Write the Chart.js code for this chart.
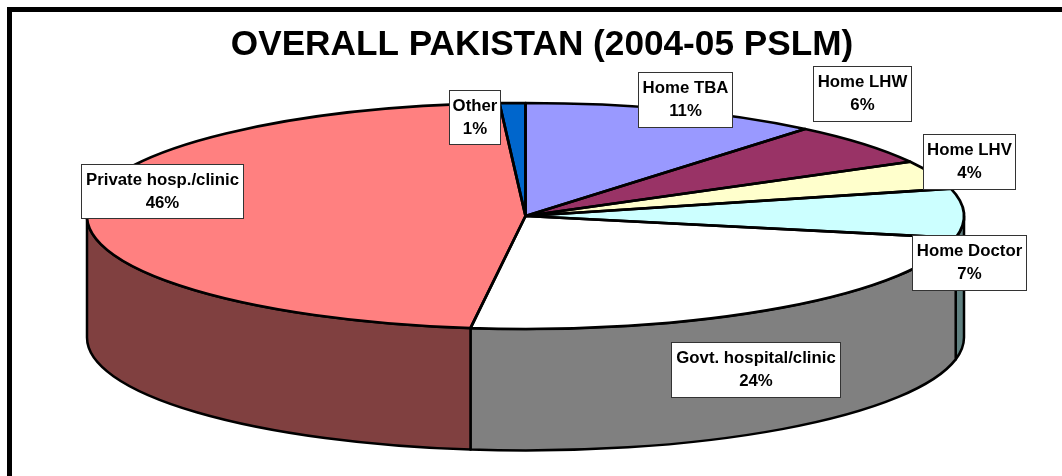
<!DOCTYPE html>
<html>
<head>
<meta charset="utf-8">
<style>html,body{margin:0;padding:0;background:#fff;overflow:hidden}canvas{display:block}</style>
<script src="https://cdn.jsdelivr.net/npm/chart.js@4/dist/chart.umd.min.js"></script>
</head>
<body>
<canvas id="c" width="1062" height="476" style="width:1062px;height:476px"></canvas>
<script>
const titleText = 'OVERALL PAKISTAN (2004-05 PSLM)';
const categories = ['Home TBA','Home LHW','Home LHV','Home Doctor','Govt. hospital/clinic','Private hosp./clinic','Other'];
const shares = [10.83,5.93,4.0,6.89,23.52,46.3,0.93];
const topColors = ['#9999FF','#993366','#FFFFCC','#CCFFFF','#FFFFFF','#FF8080','#0066CC'];
const wallColors = ['#4D4D80','#4D1A33','#808066','#608080','#808080','#804040','#003366'];
// label boxes: left, top, right, bottom (layout only)
const labelBoxes = [[638,72,732,127],[813,66,911,121],[923,134,1015,189],[912,235,1026,290],[671,342,840,397],[81,164,243,218],[449,90,500,144]];
// pie projection (layout only)
const CX=525.5, CY=216, RX=438.5, RY=113, DEPTH=121.5;

function arcsOf(chart){
  return chart.getDatasetMeta(0).data.map(a=>a.getProps(['startAngle','endAngle','outerRadius','x','y'],true));
}
const pie3d = {
  id:'pie3d',
  beforeDraw(chart){
    const c=chart.ctx; c.save(); c.fillStyle='#000';
    c.fillRect(7,7,1055,5); c.fillRect(7,7,5,469); c.restore();
  },
  beforeDatasetsDraw(chart){
    const c=chart.ctx, arcs=arcsOf(chart);
    c.save(); c.lineWidth=2.5; c.strokeStyle='#000'; c.lineJoin='round';
    arcs.forEach((a,i)=>{
      const s=Math.max(a.startAngle,0), e=Math.min(a.endAngle,Math.PI);
      if(e<=s) return;
      c.beginPath();
      c.ellipse(CX,CY,RX,RY,0,s,e,false);
      c.ellipse(CX,CY+DEPTH,RX,RY,0,e,s,true);
      c.closePath();
      c.fillStyle=wallColors[i]; c.fill(); c.stroke();
    });
    c.restore();
    const R=arcs[0].outerRadius;
    c.save();
    c.translate(CX,CY); c.scale(RX/R,RY/R); c.translate(-arcs[0].x,-arcs[0].y);
  },
  afterDatasetsDraw(chart){
    const c=chart.ctx, arcs=arcsOf(chart);
    c.restore();
    c.save(); c.lineWidth=2.7; c.strokeStyle='#000'; c.lineJoin='round';
    arcs.forEach(a=>{
      c.beginPath(); c.moveTo(CX,CY);
      c.ellipse(CX,CY,RX,RY,0,a.startAngle,a.endAngle,false);
      c.closePath(); c.stroke();
    });
    c.restore();
    c.save();
    c.font='bold 16.8px "Liberation Sans", Arial, sans-serif';
    c.textAlign='center'; c.textBaseline='alphabetic';
    categories.forEach((name,i)=>{
      const [l,t,r,b]=labelBoxes[i];
      c.fillStyle='#fff'; c.fillRect(l,t,r-l,b-t);
      c.strokeStyle='#333'; c.lineWidth=1; c.strokeRect(l+.5,t+.5,r-l,b-t);
      c.fillStyle='#000';
      const mx=(l+r)/2+.5;
      c.fillText(name,mx,t+21);
      c.fillText(Math.round(shares[i])+'%',mx,t+44);
    });
    c.restore();
  }
};
new Chart(document.getElementById('c'),{
  type:'pie',
  data:{labels:categories,datasets:[{data:shares,backgroundColor:topColors,borderWidth:0,hoverOffset:0,clip:false}]},
  options:{
    responsive:false,animation:false,events:[],
    layout:{padding:{left:22,right:0,top:24,bottom:0}},
    plugins:{
      legend:{display:false},tooltip:{enabled:false},
      title:{display:true,text:titleText,color:'#000',align:'center',
        font:{family:'"Liberation Sans", Arial, sans-serif',size:35.2,weight:'bold'},padding:{top:0,bottom:4}}
    }
  },
  plugins:[pie3d]
});
</script>
</body>
</html>
